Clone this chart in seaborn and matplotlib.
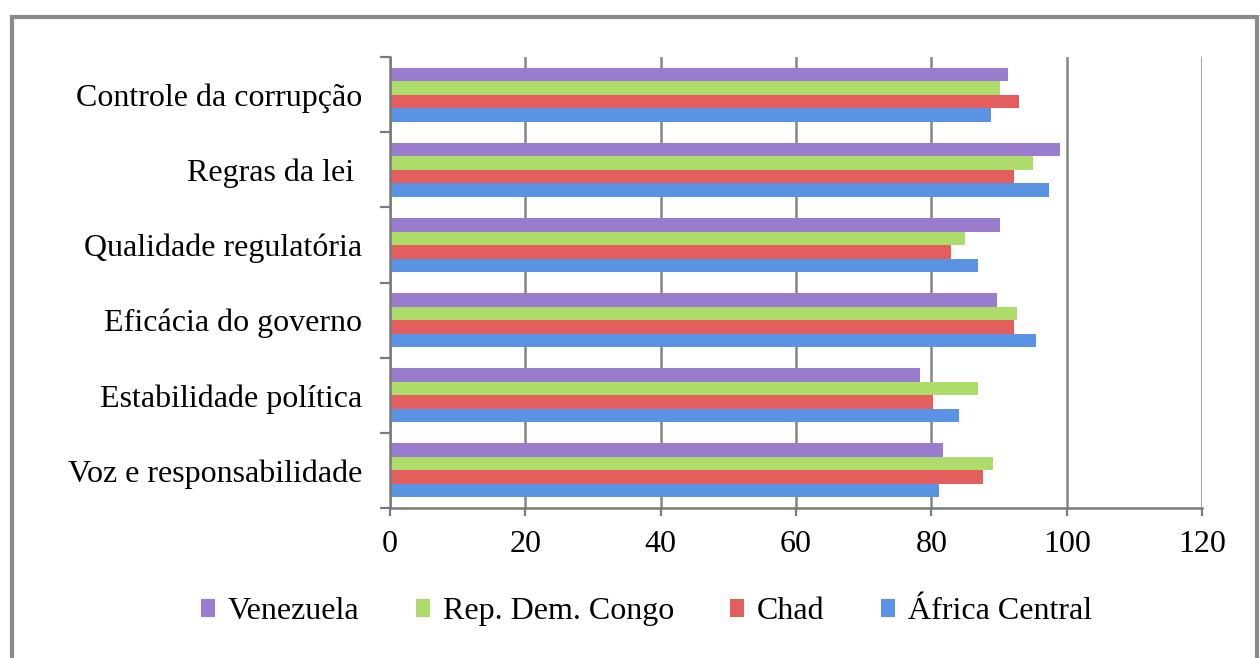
import numpy as np
import pandas as pd
import matplotlib
matplotlib.use('Agg')
import matplotlib.pyplot as plt
import seaborn as sns
from matplotlib.patches import Rectangle
from matplotlib.ticker import FixedLocator

# ── dados ──────────────────────────────────────────────
categorias = ['Controle da corrupção', 'Regras da lei ', 'Qualidade regulatória',
              'Eficácia do governo', 'Estabilidade política', 'Voz e responsabilidade']
series = ['Venezuela', 'Rep. Dem. Congo', 'Chad', 'África Central']

venezuela = [91.3, 99.0, 90.2, 89.7, 78.3, 81.7]
congo     = [90.2, 95.0, 84.9, 92.6, 86.9, 89.1]
chad      = [93.0, 92.2, 82.9, 92.2, 80.3, 87.6]
africa_c  = [88.8, 97.4, 86.9, 95.4, 84.1, 81.2]

cores = ['#9a7ccf', '#addc6a', '#e55e5e', '#5a93e3']
x_ticks = [0, 20, 40, 60, 80, 100, 120]

df = pd.DataFrame({
    'categoria': categorias * 4,
    'serie': np.repeat(series, len(categorias)),
    'valor': venezuela + congo + chad + africa_c,
})

# ── figura ─────────────────────────────────────────────
sns.set_style('white')
plt.rcParams['font.family'] = ['Liberation Serif', 'DejaVu Serif']
plt.rcParams['text.color'] = 'black'
plt.rcParams['xtick.labelcolor'] = 'black'
plt.rcParams['ytick.labelcolor'] = 'black'
fs = 23

fig = plt.figure(figsize=(12.6, 6.58), dpi=100)
ax = fig.add_axes([0.3095, 0.228, 0.6445, 0.685])

sns.barplot(data=df, y='categoria', x='valor', hue='serie',
            order=categorias, hue_order=series, palette=cores,
            orient='h', width=0.72, saturation=1, edgecolor='none',
            legend=True, ax=ax)

ax.set_xlim(0, 120)
ax.set_ylim(len(categorias) - 0.5, -0.5)
ax.set_xticks(x_ticks)
ax.set_xlabel('')
ax.set_ylabel('')
ax.xaxis.grid(True, color='#858585', lw=1.8)
ax.set_axisbelow(True)
for s in ['top', 'right']:
    ax.spines[s].set_visible(False)
for s in ['left', 'bottom']:
    ax.spines[s].set_color('#7a7a7a')
    ax.spines[s].set_linewidth(1.8)

ax.tick_params(axis='x', labelsize=fs, length=6, width=1.6, color='#7a7a7a',
               labelcolor='black', direction='out', pad=10, bottom=True)
ax.tick_params(axis='y', which='major', labelsize=fs, length=0, pad=20,
               labelcolor='black')
ax.yaxis.set_minor_locator(FixedLocator(np.arange(-0.5, len(categorias), 1)))
ax.tick_params(axis='y', which='minor', length=7, width=1.6, color='#7a7a7a',
               direction='out', left=True)

handles, labels = ax.get_legend_handles_labels()
ax.legend_.remove()
fig.legend(handles, labels, loc='center', bbox_to_anchor=(0.513, 0.07),
           ncol=4, frameon=False, fontsize=fs, handlelength=0.45,
           handleheight=0.45, handletextpad=0.4, columnspacing=1.75,
           labelcolor='black')

# moldura externa
fig.patches.append(Rectangle((0.0095, -0.02), 0.988, 0.994, transform=fig.transFigure,
                             fill=False, edgecolor='#8a8a8a', lw=3))

fig.savefig('out.png', dpi=100)
